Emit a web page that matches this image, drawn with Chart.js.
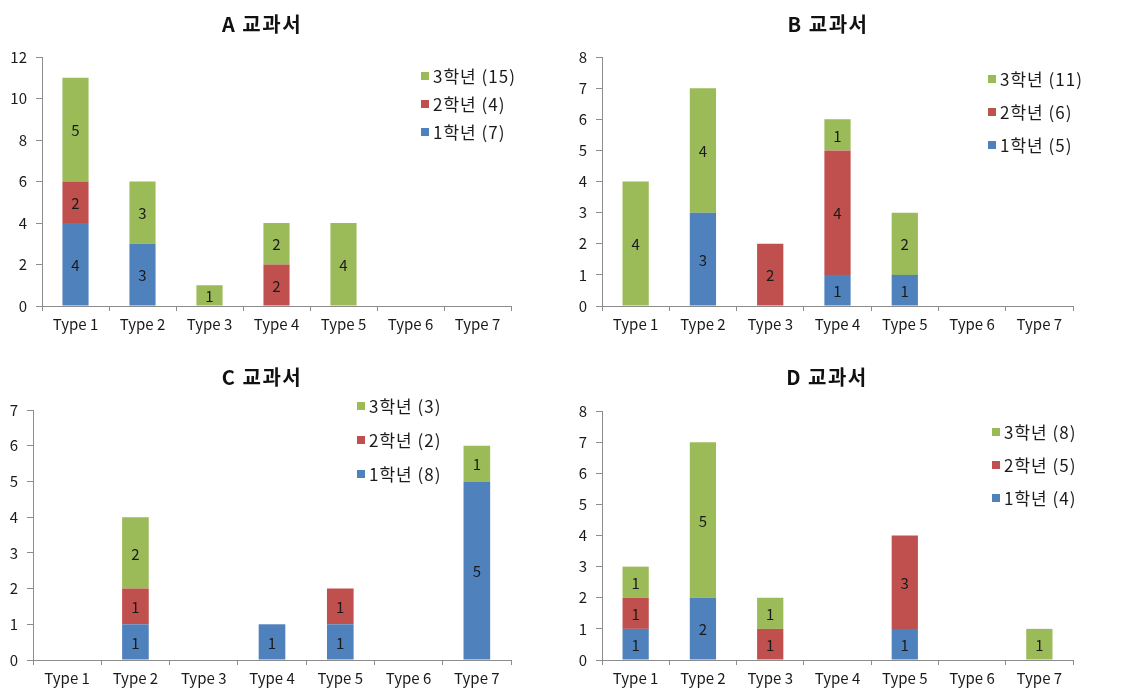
<!DOCTYPE html>
<html>
<head>
<meta charset="utf-8">
<script src="https://cdn.jsdelivr.net/npm/chart.js@4.4.1/dist/chart.umd.min.js"></script>
<style>
  html, body { margin: 0; padding: 0; background: #fff; }
  #wrap { position: relative; width: 1127px; height: 692px; overflow: hidden; }
  #wrap canvas { position: absolute; }
</style>
</head>
<body>
<div id="wrap">
  <canvas id="chartA" width="560" height="345" style="left:0;top:0;width:560px;height:345px"></canvas>
  <canvas id="chartB" width="567" height="345" style="left:560px;top:0;width:567px;height:345px"></canvas>
  <canvas id="chartC" width="560" height="347" style="left:0;top:345px;width:560px;height:347px"></canvas>
  <canvas id="chartD" width="567" height="347" style="left:560px;top:345px;width:567px;height:347px"></canvas>
</div>
<script>
// Categories and grade names
const types = ['Type 1', 'Type 2', 'Type 3', 'Type 4', 'Type 5', 'Type 6', 'Type 7'];
const gradeNames = ['1학년', '2학년', '3학년'];

// A 교과서
const aGrade1 = [4, 3, 0, 0, 0, 0, 0];
const aGrade2 = [2, 0, 0, 2, 0, 0, 0];
const aGrade3 = [5, 3, 1, 2, 4, 0, 0];
// B 교과서
const bGrade1 = [0, 3, 0, 1, 1, 0, 0];
const bGrade2 = [0, 0, 2, 4, 0, 0, 0];
const bGrade3 = [4, 4, 0, 1, 2, 0, 0];
// C 교과서
const cGrade1 = [0, 1, 0, 1, 1, 0, 5];
const cGrade2 = [0, 1, 0, 0, 1, 0, 0];
const cGrade3 = [0, 2, 0, 0, 0, 0, 1];
// D 교과서
const dGrade1 = [1, 2, 0, 0, 1, 0, 0];
const dGrade2 = [1, 0, 1, 0, 3, 0, 0];
const dGrade3 = [1, 5, 1, 0, 0, 0, 1];

// Y axis ranges
const aTicks = { max: 12, step: 2 };
const bTicks = { max: 8, step: 1 };
const cTicks = { max: 7, step: 1 };
const dTicks = { max: 8, step: 1 };

const gradeColors = ['#4F81BD', '#C0504D', '#9BBB59'];
const FONT = "'Noto Sans CJK KR', 'Noto Sans', sans-serif";
const AXIS_GRAY = '#8c8c8c';
const TEXT = '#1a1a1a';

// Panel title, drawn at a fixed spot above the plot
const titlePlugin = {
  id: 'panelTitle',
  afterDraw(chart, args, opts) {
    const ctx = chart.ctx;
    ctx.save();
    ctx.font = 'bold 20px ' + FONT;
    ctx.letterSpacing = '1.5px';
    ctx.fillStyle = '#111';
    ctx.textAlign = 'center';
    ctx.textBaseline = 'middle';
    ctx.fillText(opts.text, opts.x, opts.y);
    ctx.restore();
  }
};

// Legend inside the plot, top grade first, with each grade's total
const insideLegend = {
  id: 'insideLegend',
  afterDraw(chart, args, opts) {
    const ctx = chart.ctx;
    const sets = chart.data.datasets;
    ctx.save();
    ctx.font = '17px ' + FONT;
    ctx.letterSpacing = '1px';
    ctx.textBaseline = 'middle';
    ctx.textAlign = 'left';
    for (let i = sets.length - 1, row = 0; i >= 0; i--, row++) {
      const ds = sets[i];
      const total = ds.data.reduce((s, v) => s + v, 0);
      const y = opts.y + row * opts.gap;
      ctx.fillStyle = ds.backgroundColor;
      ctx.fillRect(opts.x, y - 4, 8, 8);
      ctx.fillStyle = TEXT;
      ctx.fillText(ds.label + ' (' + total + ')', opts.x + 12, y + 1);
    }
    ctx.restore();
  }
};

// Value labels centred in each non-empty segment
const segmentLabels = {
  id: 'segmentLabels',
  afterDatasetsDraw(chart) {
    const ctx = chart.ctx;
    ctx.save();
    ctx.font = '15px ' + FONT;
    ctx.fillStyle = '#1a1a1a';
    ctx.textAlign = 'center';
    ctx.textBaseline = 'middle';
    chart.data.datasets.forEach((ds, di) => {
      const meta = chart.getDatasetMeta(di);
      meta.data.forEach((bar, i) => {
        const v = ds.data[i];
        if (!v) return;
        const p = bar.getProps(['x', 'y', 'base'], true);
        ctx.fillText(String(v), p.x, (p.y + p.base) / 2 + 1);
      });
    });
    ctx.restore();
  }
};

function makePanel(id, title, g1, g2, g3, range, L) {
  const canvas = document.getElementById(id);
  const W = canvas.width, H = canvas.height;
  const xAxisH = 34;
  return new Chart(canvas, {
    type: 'bar',
    data: {
      labels: types,
      datasets: [
        { label: gradeNames[0], data: g1, backgroundColor: gradeColors[0] },
        { label: gradeNames[1], data: g2, backgroundColor: gradeColors[1] },
        { label: gradeNames[2], data: g3, backgroundColor: gradeColors[2] }
      ]
    },
    options: {
      responsive: false,
      animation: false,
      layout: {
        padding: { left: 0, top: L.top, right: W - L.right, bottom: H - L.bottom - xAxisH }
      },
      datasets: { bar: { categoryPercentage: 1, barPercentage: 0.39 } },
      plugins: {
        legend: { display: false },
        tooltip: { enabled: false },
        panelTitle: { text: title, x: L.titleX, y: L.titleY },
        insideLegend: { x: L.legX, y: L.legY, gap: L.legGap }
      },
      scales: {
        x: {
          stacked: true,
          afterFit(s) { s.height = xAxisH; },
          grid: { display: true, drawOnChartArea: false, drawTicks: true, tickLength: 5, color: AXIS_GRAY, offset: true },
          border: { display: true, color: AXIS_GRAY, width: 1 },
          ticks: { color: TEXT, font: { family: FONT, size: 15 }, padding: 4, maxRotation: 0, autoSkip: false }
        },
        y: {
          stacked: true,
          min: 0,
          max: range.max,
          afterFit(s) { s.width = L.left; },
          grid: { display: true, drawOnChartArea: false, drawTicks: true, tickLength: 6, color: AXIS_GRAY },
          border: { display: true, color: AXIS_GRAY, width: 1 },
          ticks: { stepSize: range.step, color: TEXT, font: { family: FONT, size: 15 }, padding: 9 }
        }
      }
    },
    plugins: [segmentLabels, titlePlugin, insideLegend]
  });
}

makePanel('chartA', 'A 교과서', aGrade1, aGrade2, aGrade3, aTicks,
  { left: 42, right: 511, top: 57, bottom: 306, titleX: 262, titleY: 24, legX: 421, legY: 76, legGap: 28 });
makePanel('chartB', 'B 교과서', bGrade1, bGrade2, bGrade3, bTicks,
  { left: 42, right: 513, top: 57, bottom: 306, titleX: 268, titleY: 24, legX: 428, legY: 79, legGap: 33 });
makePanel('chartC', 'C 교과서', cGrade1, cGrade2, cGrade3, cTicks,
  { left: 33, right: 511, top: 65, bottom: 315, titleX: 262, titleY: 32, legX: 357, legY: 61, legGap: 34 });
makePanel('chartD', 'D 교과서', dGrade1, dGrade2, dGrade3, dTicks,
  { left: 42, right: 513, top: 66, bottom: 315, titleX: 267, titleY: 32, legX: 432, legY: 87, legGap: 33 });
</script>
</body>
</html>
